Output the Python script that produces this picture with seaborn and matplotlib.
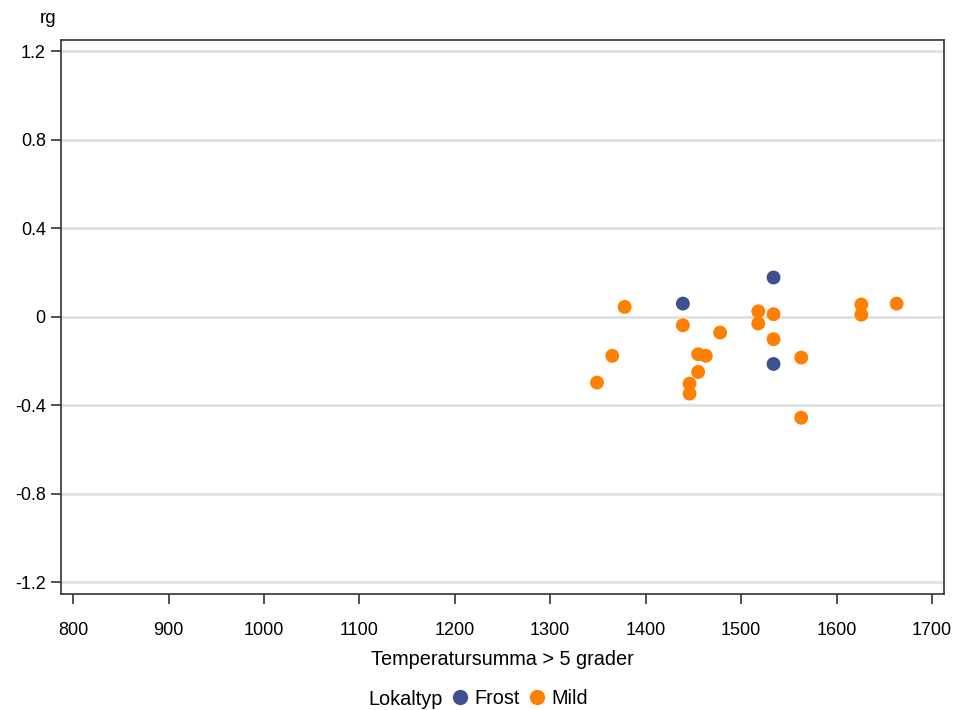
import pandas as pd
import seaborn as sns
import matplotlib.pyplot as plt

# values
frost_x = [1439, 1534, 1534]
frost_y = [0.060, 0.178, -0.213]

mild_x = [1349, 1365, 1378, 1439, 1446, 1446, 1455, 1463, 1455, 1478,
          1518, 1518, 1534, 1534, 1563, 1563, 1626, 1626, 1663]
mild_y = [-0.297, -0.176, 0.045, -0.038, -0.302, -0.347, -0.169, -0.176, -0.249, -0.071,
          0.025, -0.030, 0.012, -0.101, -0.184, -0.456, 0.056, 0.010, 0.060]

x_ticks = [800, 900, 1000, 1100, 1200, 1300, 1400, 1500, 1600, 1700]
y_ticks = [-1.2, -0.8, -0.4, 0, 0.4, 0.8, 1.2]
y_labels = ['-1.2', '-0.8', '-0.4', '0', '0.4', '0.8', '1.2']

colors = {'Frost': '#3f4f8f', 'Mild': '#ff8000'}

df = pd.DataFrame({
    'temp': frost_x + mild_x,
    'rg': frost_y + mild_y,
    'Lokaltyp': ['Frost'] * len(frost_x) + ['Mild'] * len(mild_x),
})

sns.set_style('white')
plt.rcParams['font.family'] = ['Liberation Sans', 'DejaVu Sans']
plt.rcParams['font.size'] = 13
plt.rcParams['text.color'] = 'black'
plt.rcParams['axes.labelcolor'] = 'black'
plt.rcParams['xtick.color'] = 'black'
plt.rcParams['ytick.color'] = 'black'

fig = plt.figure(figsize=(9.54, 7.10), dpi=100)
ax = fig.add_axes([0.064, 0.1637, 0.9255, 0.7800])

for y in y_ticks:
    ax.axhline(y, color='#e0e0e0', lw=2, zorder=0)

sns.scatterplot(data=df, x='temp', y='rg', hue='Lokaltyp', palette=colors,
                hue_order=['Frost', 'Mild'], s=100, linewidth=0, ax=ax,
                legend=False, zorder=3)

ax.set_xlim(787.4, 1712.6)
ax.set_ylim(-1.252, 1.252)
ax.set_xticks(x_ticks)
ax.set_yticks(y_ticks)
ax.set_yticklabels(y_labels)
ax.tick_params(direction='out', length=7, width=1.2, color='#333333',
               labelsize=13, left=True, bottom=True)
ax.tick_params(axis='x', pad=13)
ax.tick_params(axis='y', pad=4)
for sp in ax.spines.values():
    sp.set_color('#333333')
    sp.set_linewidth(1.2)

ax.set_xlabel('Temperatursumma > 5 grader', fontsize=14.3, labelpad=8)
ax.set_ylabel('')
fig.text(0.042, 0.962, 'rg', fontsize=13.5, ha='left', va='bottom')

# legend at bottom
fig.text(0.386, 0.001, 'Lokaltyp', fontsize=14.3, ha='left', va='bottom')
handles = [plt.Line2D([], [], marker='o', ls='', markersize=11,
                      markerfacecolor=colors[k], markeredgewidth=0)
           for k in ['Frost', 'Mild']]
fig.legend(handles, ['Frost', 'Mild'], loc='lower left',
           bbox_to_anchor=(0.4595, -0.017), ncol=2, frameon=False,
           handlelength=0.8, handletextpad=0.3, columnspacing=0.5,
           fontsize=14.3, borderaxespad=0.3)

fig.savefig('out.png', dpi=100)
